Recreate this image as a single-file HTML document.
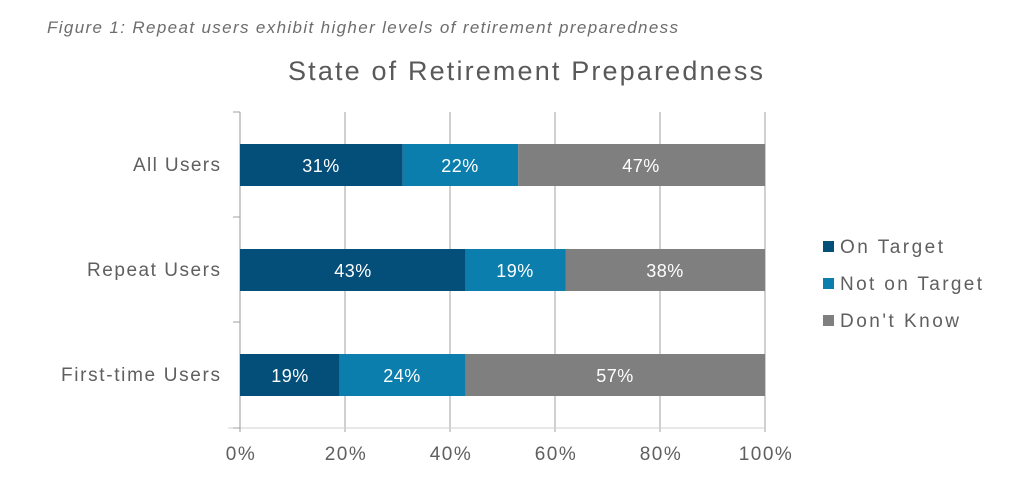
<!DOCTYPE html>
<html><head><style>
body{margin:0;background:#fff;width:1024px;height:487px;overflow:hidden;font-family:"Liberation Sans",sans-serif;}
</style></head><body>
<svg width="1024" height="487" xmlns="http://www.w3.org/2000/svg" font-family="Liberation Sans, sans-serif">
<text x="47" y="33" font-size="17" font-style="italic" fill="#6d6d6d" textLength="631" lengthAdjust="spacing">Figure 1: Repeat users exhibit higher levels of retirement preparedness</text>
<text x="288" y="80" font-size="27" fill="#595959" textLength="475" lengthAdjust="spacing">State of Retirement Preparedness</text>
<g stroke="#a0a0a0" stroke-width="1">
<line x1="345" y1="112" x2="345" y2="432"/>
<line x1="450" y1="112" x2="450" y2="432"/>
<line x1="555" y1="112" x2="555" y2="432"/>
<line x1="660" y1="112" x2="660" y2="432"/>
<line x1="765" y1="112" x2="765" y2="432"/>
<line x1="228" y1="428" x2="766" y2="428" stroke="#d0d0d0"/>
<line x1="240" y1="112" x2="240" y2="432" stroke="#999"/>
<line x1="233" y1="112" x2="240" y2="112"/>
<line x1="233" y1="217" x2="240" y2="217"/>
<line x1="233" y1="322" x2="240" y2="322"/>
<line x1="233" y1="428" x2="240" y2="428"/>
</g>
<g>
<rect x="240" y="144" width="162.75" height="42" fill="#044f7a"/>
<rect x="402.75" y="144" width="115.5" height="42" fill="#0b7eae"/>
<rect x="518.25" y="144" width="246.75" height="42" fill="#7f7f7f"/>
<rect x="240" y="249" width="225.75" height="42" fill="#044f7a"/>
<rect x="465.75" y="249" width="99.75" height="42" fill="#0b7eae"/>
<rect x="565.5" y="249" width="199.5" height="42" fill="#7f7f7f"/>
<rect x="240" y="354" width="99.75" height="42" fill="#044f7a"/>
<rect x="339.75" y="354" width="126" height="42" fill="#0b7eae"/>
<rect x="465.75" y="354" width="299.25" height="42" fill="#7f7f7f"/>
</g>
<g font-size="18" fill="#fff" text-anchor="middle" letter-spacing="0.5">
<text x="321" y="172">31%</text><text x="460" y="172">22%</text><text x="641" y="172">47%</text>
<text x="353" y="277">43%</text><text x="515" y="277">19%</text><text x="665" y="277">38%</text>
<text x="290" y="382">19%</text><text x="402" y="382">24%</text><text x="615" y="382">57%</text>
</g>
<g font-size="19" fill="#5f5f5f">
<text x="133" y="171" textLength="87" lengthAdjust="spacing">All Users</text>
<text x="87" y="276" textLength="133" lengthAdjust="spacing">Repeat Users</text>
<text x="61" y="381" textLength="159" lengthAdjust="spacing">First-time Users</text>
</g>
<g font-size="19" fill="#5f5f5f" text-anchor="middle" letter-spacing="1.5">
<text x="241" y="460">0%</text><text x="346" y="460">20%</text><text x="451" y="460">40%</text>
<text x="556" y="460">60%</text><text x="661" y="460">80%</text><text x="766" y="460">100%</text>
</g>
<rect x="823" y="241" width="11" height="11" fill="#044f7a"/>
<rect x="823" y="278" width="11" height="11" fill="#0b7eae"/>
<rect x="823" y="315" width="11" height="11" fill="#7f7f7f"/>
<g font-size="19" fill="#5f5f5f">
<text x="840" y="253" textLength="103" lengthAdjust="spacing">On Target</text>
<text x="840" y="290" textLength="142" lengthAdjust="spacing">Not on Target</text>
<text x="840" y="327" textLength="119" lengthAdjust="spacing">Don't Know</text>
</g>
</svg>
</body></html>
